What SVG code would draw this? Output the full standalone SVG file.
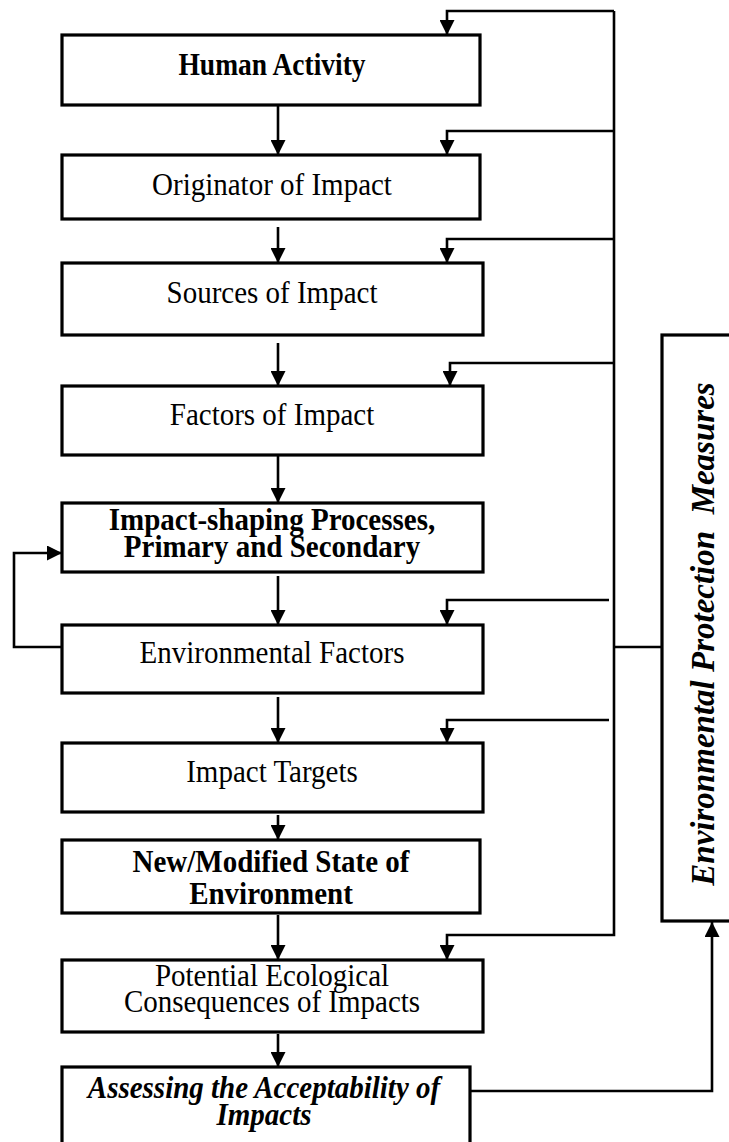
<svg xmlns="http://www.w3.org/2000/svg" width="729" height="1142" viewBox="0 0 729 1142">
  <style>
    .box { fill: #fff; stroke: #000; stroke-width: 3.2; }
    .wire { fill: none; stroke: #000; stroke-width: 2.6; }
    .t { font-family: "Liberation Serif", "Times New Roman", serif; font-size: 29px; fill: #000; text-anchor: middle; }
    .b { font-weight: bold; }
    .bi { font-weight: bold; font-style: italic; }
  </style>
  <defs>
    <marker id="ah" markerUnits="userSpaceOnUse" markerWidth="15" markerHeight="15" refX="14" refY="7" orient="auto" viewBox="0 0 14 14">
      <path d="M0,0 L14,7 L0,14 z" fill="#000"/>
    </marker>
  </defs>
  <rect width="729" height="1142" fill="#fff"/>

  <!-- connectors -->
  <g id="connectors">
    <!-- main chain -->
    <line class="wire" x1="278" y1="106" x2="278" y2="155" marker-end="url(#ah)"/>
    <line class="wire" x1="278" y1="227" x2="278" y2="263" marker-end="url(#ah)"/>
    <line class="wire" x1="278" y1="343" x2="278" y2="386" marker-end="url(#ah)"/>
    <line class="wire" x1="278" y1="456" x2="278" y2="503" marker-end="url(#ah)"/>
    <line class="wire" x1="278" y1="576" x2="278" y2="625" marker-end="url(#ah)"/>
    <line class="wire" x1="278" y1="697" x2="278" y2="743" marker-end="url(#ah)"/>
    <line class="wire" x1="278" y1="815" x2="278" y2="840" marker-end="url(#ah)"/>
    <line class="wire" x1="278" y1="915" x2="278" y2="960" marker-end="url(#ah)"/>
    <line class="wire" x1="278" y1="1034" x2="278" y2="1067" marker-end="url(#ah)"/>

    <!-- loop back from Environmental Factors -->
    <path class="wire" d="M62,647 H14 V553 H62" marker-end="url(#ah)"/>

    <!-- measures bus -->
    <path class="wire" d="M614,11 H447 V35" marker-end="url(#ah)"/>
    <path class="wire" d="M614,11 V935 H447 V960" marker-end="url(#ah)"/>
    <path class="wire" d="M614,131 H447 V155" marker-end="url(#ah)"/>
    <path class="wire" d="M614,239 H447 V263" marker-end="url(#ah)"/>
    <path class="wire" d="M614,363 H450 V386" marker-end="url(#ah)"/>
    <path class="wire" d="M609,600 H447 V625" marker-end="url(#ah)"/>
    <path class="wire" d="M609,720 H447 V743" marker-end="url(#ah)"/>
    <line class="wire" x1="614" y1="647" x2="662" y2="647"/>

    <!-- assessment feeds the measures -->
    <path class="wire" d="M470,1091 H712 V922" marker-end="url(#ah)"/>
  </g>

  <g id="human-activity">
    <rect class="box" x="62" y="35" width="418" height="70"/>
    <text class="t b" transform="matrix(1,0,0,1.12,272,75)" style="font-size:27.5px">Human Activity</text>
  </g>
  <g id="originator">
    <rect class="box" x="62" y="155" width="418" height="64"/>
    <text class="t" transform="matrix(1,0,0,1.1,272,195)">Originator of Impact</text>
  </g>
  <g id="sources">
    <rect class="box" x="62" y="263" width="421" height="72"/>
    <text class="t" transform="matrix(1,0,0,1.1,272,303)">Sources of Impact</text>
  </g>
  <g id="factors">
    <rect class="box" x="62" y="386" width="421" height="69"/>
    <text class="t" transform="matrix(1,0,0,1.1,272,425)">Factors of Impact</text>
  </g>
  <g id="impact-shaping">
    <rect class="box" x="62" y="503" width="421" height="69"/>
    <text class="t b" transform="matrix(1,0,0,1.1,272,530)">Impact-shaping Processes,</text>
    <text class="t b" transform="matrix(1,0,0,1.1,272,557)">Primary and Secondary</text>
  </g>
  <g id="environmental-factors">
    <rect class="box" x="62" y="625" width="421" height="68"/>
    <text class="t" transform="matrix(1,0,0,1.1,272,663)">Environmental Factors</text>
  </g>
  <g id="impact-targets">
    <rect class="box" x="62" y="743" width="421" height="69"/>
    <text class="t" transform="matrix(1,0,0,1.1,272,782)">Impact Targets</text>
  </g>
  <g id="new-state">
    <rect class="box" x="62" y="840" width="418" height="73"/>
    <text class="t b" transform="matrix(1,0,0,1.1,271,872)">New/Modified State of</text>
    <text class="t b" transform="matrix(1,0,0,1.1,271,904)">Environment</text>
  </g>
  <g id="consequences">
    <rect class="box" x="62" y="960" width="421" height="72"/>
    <text class="t" transform="matrix(1,0,0,1.1,272,986)">Potential Ecological</text>
    <text class="t" transform="matrix(1,0,0,1.1,272,1012)">Consequences of Impacts</text>
  </g>
  <g id="assessment">
    <rect class="box" x="62" y="1067" width="408" height="90"/>
    <text class="t bi" transform="matrix(1,0,0,1.1,264,1098)">Assessing the Acceptability of</text>
    <text class="t bi" transform="matrix(1,0,0,1.1,264,1125)">Impacts</text>
  </g>
  <g id="protection-measures">
    <rect class="box" x="662" y="335" width="90" height="586"/>
    <text class="t bi" transform="translate(714,634) rotate(-90)" style="font-size:33px" xml:space="preserve">Environmental Protection  Measures</text>
  </g>
</svg>
